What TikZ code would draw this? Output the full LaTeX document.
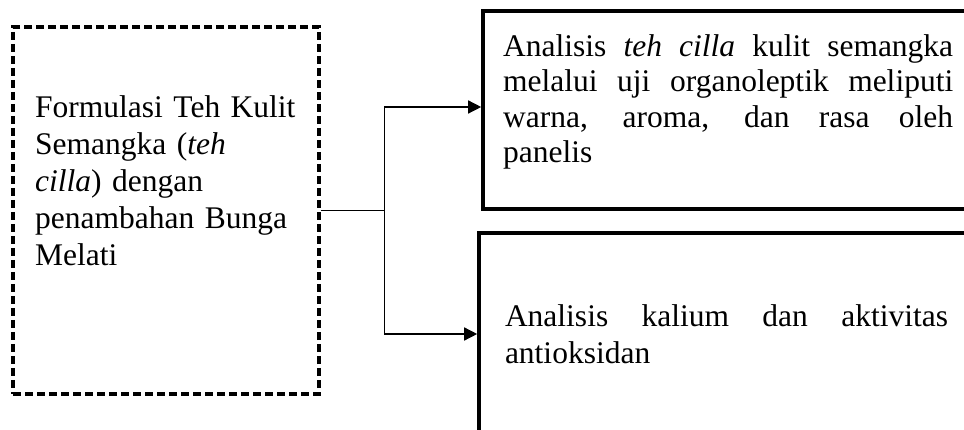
\documentclass[tikz,border=0pt]{standalone}
\usepackage{fontspec}
\setmainfont{Liberation Serif}
\usetikzlibrary{arrows.meta, positioning, calc}
\hyphenpenalty=10000
\tolerance=10000

\begin{document}
\begin{tikzpicture}[
    x=1pt, y=-1pt,
    >={Triangle[length=13pt, width=13pt]},
    every node/.style={font=\fontsize{31.5}{37}\selectfont},
    inbox/.style={draw, line width=3.4pt, dash pattern=on 8pt off 4pt},
    outbox/.style={draw, line width=3.6pt, align=justify,
        inner xsep=20pt, inner ysep=0pt},
    boxtext/.style={inner sep=0pt, anchor=base west},
    link/.style={line width=1.4pt},
]
    % ── Frame ─────────────────────────────────────
    \useasboundingbox (0,0) rectangle (964,430);
    \clip (0,0) rectangle (964,430);

    % ── Formulation (dashed) ──────────────────────
    \node[inbox, minimum width=306pt, minimum height=367pt]
        (formula) at (166,210.5) {};
    \node[boxtext, text width=262pt, align=left]
        (formulatxt) at (35,118) {Formulasi Teh Kulit\\
        Semangka (\emph{teh}\\
        \emph{cilla}) dengan\\
        penambahan Bunga\\
        Melati};

    % ── Analyses ──────────────────────────────────
    \node[outbox, minimum width=490pt, minimum height=198pt, anchor=west]
        (organo) at (481.2,110) {};
    \node[boxtext, text width=450pt, align=justify,
        font=\fontsize{31.5}{35.5}\selectfont]
        (organotxt) at (503,56.5) {Analisis \emph{teh cilla} kulit semangka\linebreak
        melalui uji organoleptik meliputi\linebreak
        warna, aroma, dan rasa oleh\linebreak
        panelis};
    \node[outbox, text width=443pt, minimum width=495pt, minimum height=202pt,
        anchor=west]
        (kalium) at (477.2,334) {Analisis kalium dan aktivitas\linebreak
        antioksidan};

    % ── Connectors ────────────────────────────────
    \draw[link] (formula.east) -- ++(64,0) coordinate (fork);
    \draw[link, ->] (fork) |- ([yshift=3pt]organo.west);
    \draw[link, ->] (fork) |- (kalium.west);
\end{tikzpicture}
\end{document}
